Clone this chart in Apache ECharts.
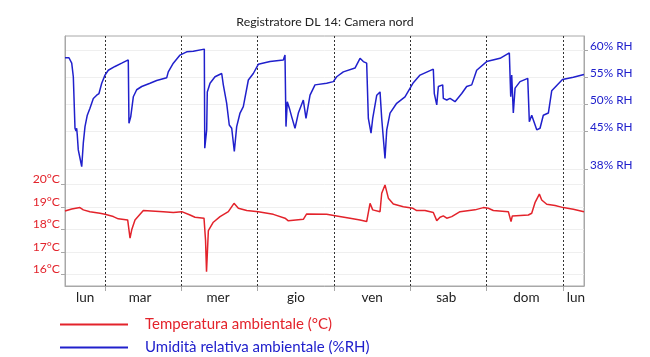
<!DOCTYPE html>
<html><head><meta charset="utf-8">
<script src="https://cdn.jsdelivr.net/npm/echarts@6/dist/echarts.min.js"></script>
<style>html,body{margin:0;padding:0;background:#fff}#c{width:650px;height:357px}</style>
</head><body><div id="c"></div>
<script>
// time in days from Monday 00:00
const humTime = [0.476,0.528,0.548,0.564,0.585,0.607,0.620,0.629,0.637,0.650,0.672,0.695,0.708,0.716,0.738,0.768,0.803,0.847,0.891,0.921,0.957,1.000,1.043,1.131,1.219,1.305,1.314,1.337,1.371,1.415,1.481,1.590,1.677,1.808,1.829,1.895,1.983,2.070,2.157,2.301,2.307,2.332,2.340,2.376,2.441,2.529,2.550,2.594,2.628,2.660,2.694,2.725,2.769,2.812,2.878,2.943,3.008,3.162,3.336,3.358,3.371,3.388,3.415,3.446,3.489,3.533,3.598,3.633,3.686,3.751,3.904,3.991,4.035,4.122,4.275,4.341,4.384,4.428,4.450,4.485,4.507,4.560,4.603,4.625,4.668,4.691,4.734,4.821,4.930,5.039,5.127,5.301,5.314,5.346,5.367,5.424,5.432,5.477,5.520,5.585,5.673,5.738,5.804,5.869,6.000,6.175,6.297,6.315,6.328,6.349,6.372,6.437,6.538,6.559,6.590,6.656,6.699,6.742,6.808,6.852,6.918,6.993,7.135,7.275];
const humidity = [58.6,58.6,58.8,57.6,55.1,45.6,45.1,45.6,44.3,41.6,40.1,38.5,38.3,42.9,45.9,48.0,49.3,51.1,51.7,52.0,53.9,55.4,56.3,57.0,57.6,58.2,46.5,47.7,51.4,52.7,53.3,53.9,54.4,54.9,56.0,57.6,59.1,59.7,59.8,60.2,41.9,45.3,52.3,53.9,55.1,55.7,53.6,50.2,46.2,45.6,41.3,45.9,48.4,49.6,54.5,55.7,57.4,57.9,58.2,59.1,45.9,50.5,49.3,47.7,45.6,48.4,50.8,47.4,51.7,53.6,53.9,54.2,55.1,56.0,56.7,58.5,57.9,57.6,47.4,44.7,47.4,51.7,52.3,47.4,40.0,45.3,48.4,50.2,51.4,54.0,55.4,56.5,52.0,49.9,53.3,53.6,51.1,50.8,51.1,50.5,52.0,53.3,53.6,56.3,57.9,58.5,59.5,51.4,55.4,48.4,53.0,54.2,54.8,46.8,48.0,45.3,45.6,48.0,48.4,52.5,53.5,54.6,55.0,55.5];
const tempTime = [0.476,0.564,0.672,0.716,0.803,0.934,1.000,1.109,1.174,1.297,1.328,1.350,1.393,1.502,1.764,1.895,2.005,2.114,2.179,2.297,2.317,2.330,2.354,2.419,2.507,2.616,2.690,2.747,2.857,3.008,3.205,3.358,3.402,3.598,3.642,3.904,4.035,4.210,4.341,4.428,4.472,4.507,4.603,4.625,4.668,4.712,4.777,4.908,5.035,5.083,5.192,5.301,5.346,5.389,5.432,5.477,5.542,5.651,5.847,5.956,6.022,6.087,6.284,6.319,6.336,6.546,6.590,6.633,6.690,6.721,6.787,6.896,7.004,7.135,7.275];
const temperature = [18.82,18.91,18.97,18.87,18.79,18.72,18.67,18.57,18.47,18.42,17.61,17.98,18.42,18.84,18.79,18.75,18.79,18.64,18.54,18.50,17.53,16.12,17.94,18.32,18.57,18.79,19.16,18.94,18.84,18.79,18.67,18.50,18.38,18.45,18.69,18.67,18.60,18.50,18.42,18.35,19.16,18.87,18.79,19.61,19.98,19.39,19.13,19.01,18.94,18.84,18.84,18.75,18.39,18.54,18.60,18.50,18.57,18.79,18.87,18.97,18.94,18.84,18.79,18.35,18.60,18.64,18.72,19.19,19.57,19.31,19.12,19.06,18.97,18.90,18.79];
const dayBoundaries = [1,2,3,4,5,6,7];
const dayLabelPos = [0.74,1.46,2.48,3.5,4.5,5.47,6.52,7.17];
const dayNames = ['lun','mar','mer','gio','ven','sab','dom','lun'];
const tempTicks = [16,17,18,19,20];
const humTicks = [38,45,50,55,60];

const RED = '#e3232b', BLUE = '#2020cc', FONT = 'Lato';
const chart = echarts.init(document.getElementById('c'), null, {renderer:'canvas'});
const tempName = 'Temperatura ambientale (°C)', humName = 'Umidità relativa ambientale (%RH)';
chart.setOption({
  animation:false,
  textStyle:{fontFamily:FONT},
  title:{text:'Registratore DL 14: Camera nord', left:'center', top:11,
    textStyle:{fontFamily:FONT, fontSize:12.3, fontWeight:'normal', color:'#222'}},
  legend:{orient:'vertical', left:60, top:317, height:80, width:400, padding:0, icon:'rect', itemWidth:68, itemHeight:2, itemGap:8,
    textStyle:{fontFamily:FONT, fontSize:15, lineHeight:14, padding:[0,0,0,12]},
    data:[{name:tempName, textStyle:{color:RED}},{name:humName, textStyle:{color:BLUE}}]},
  grid:{left:65, right:66, top:36, bottom:71, show:true, borderColor:'#a8a8a8', borderWidth:1},
  xAxis:{type:'value', min:0.476, max:7.275,
    axisLine:{lineStyle:{color:'#a8a8a8'}},
    axisTick:{customValues:dayBoundaries, length:5, lineStyle:{color:'#a8a8a8'}},
    splitLine:{show:true, lineStyle:{color:'#333', type:[2,2], width:1}},
    axisLabel:{customValues:dayLabelPos, margin:5, fontSize:13.5, color:'#222', fontFamily:FONT,
      formatter:v=>{let bi=0;dayLabelPos.forEach((p,i)=>{if(Math.abs(p-v)<Math.abs(dayLabelPos[bi]-v))bi=i;});return dayNames[bi];}}},
  yAxis:[
    {type:'value', min:15.48, max:26.61, position:'left',
      axisLine:{show:true, lineStyle:{color:'#a8a8a8'}},
      axisTick:{show:true, customValues:tempTicks, length:4, lineStyle:{color:'#a8a8a8'}},
      splitLine:{show:true, lineStyle:{color:'#efefef'}},
      axisLabel:{customValues:tempTicks, formatter:v=>v+'°C', color:RED, fontSize:12.2, margin:5, verticalAlign:'bottom', lineHeight:10, fontFamily:FONT}},
    {type:'value', min:16.48, max:62.62, position:'right',
      axisLine:{show:true, lineStyle:{color:'#a8a8a8'}},
      axisTick:{show:true, customValues:humTicks, length:4, lineStyle:{color:'#a8a8a8'}},
      splitLine:{show:true, lineStyle:{color:'#efefef'}},
      axisLabel:{customValues:humTicks, formatter:v=>v+'% RH', color:BLUE, fontSize:11.8, margin:6, verticalAlign:'bottom', lineHeight:8, fontFamily:FONT}}
  ],
  series:[
    {name:tempName, type:'line', yAxisIndex:0, symbol:'none', color:RED, lineStyle:{width:1.5, color:RED},
      data:tempTime.map((t,i)=>[t,temperature[i]])},
    {name:humName, type:'line', yAxisIndex:1, symbol:'none', color:BLUE, lineStyle:{width:1.5, color:BLUE},
      data:humTime.map((t,i)=>[t,humidity[i]])}
  ]
});
</script></body></html>
